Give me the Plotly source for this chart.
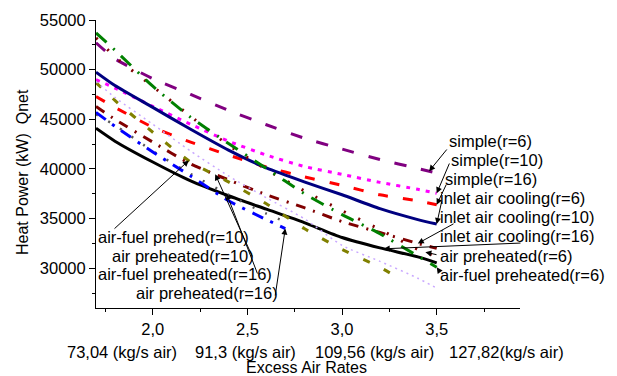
import numpy as np
import plotly.graph_objects as go

# ---------------- data ----------------
x_full = [1.7, 1.8, 2.0, 2.2, 2.4, 2.6, 2.8, 3.0, 3.2, 3.4, 3.5]
x_short = [1.7, 1.8, 2.0, 2.2, 2.4, 2.6, 2.7]
x_olive = [1.7, 1.8, 2.0, 2.2, 2.4, 2.6, 2.8, 3.0, 3.2, 3.3]

simple_r6 = [52700, 51100, 49100, 47500, 45900, 44450, 43100, 42000, 40950, 40050, 39600]
simple_r10 = [49000, 48150, 46300, 44500, 42800, 41400, 40250, 39450, 38650, 37950, 37550]
simple_r16 = [47300, 46200, 44200, 42700, 41400, 40200, 39200, 38350, 37400, 36800, 36400]
inlet_r6 = [49750, 48400, 46200, 44000, 41900, 40100, 38700, 37400, 36000, 34900, 34450]
inlet_r10 = [46300, 45000, 42700, 40500, 38900, 37400, 36100, 34700, 33600, 32500, 32000]
inlet_r16 = [44100, 42800, 40700, 38800, 37300, 35950, 34600, 33100, 32050, 31150, 30550]
air_pre_r6 = [53200, 51300, 48300, 45300, 42400, 39950, 37800, 35800, 33900, 31900, 31200]
af_pre_r6 = [53700, 51970, 48330, 45200, 42570, 40050, 37520, 35400, 33480, 31230, 30100]
af_pre_r10 = [48700, 46900, 43700, 40700, 38700, 36500, 34000, 31900, 30100, 29000]
air_pre_r10 = [48800, 47200, 44500, 41800, 39300, 37100, 35000, 32300, 30700, 29000, 28000]
af_pre_r16 = [45500, 44400, 41800, 39500, 37400, 35500, 34700]
air_pre_r16 = [45700, 44300, 41700, 39300, 36800, 34900, 34000]

x_tickvals = [2.0, 2.5, 3.0, 3.5]
x_ticktext = ["2,0", "2,5", "3,0", "3,5"]
y_tickvals = [30000, 35000, 40000, 45000, 50000, 55000]
air_labels = ["73,04 (kg/s air)", "91,3 (kg/s air)", "109,56 (kg/s air)", "127,82(kg/s air)"]

FONT = "Arial, Liberation Sans, sans-serif"

series = [
    (x_full, simple_r6, "#800080", 3, "12px,15px"),
    (x_full, simple_r10, "#FF00FF", 3, "4px,6px"),
    (x_full, simple_r16, "#FF0000", 3, "10px,15px"),
    (x_full, inlet_r6, "#000080", 3, "solid"),
    (x_full, inlet_r10, "#800000", 3, "10px,8px,2px,8px"),
    (x_full, inlet_r16, "#000000", 3, "solid"),
    (x_full, air_pre_r6, "#800000", 3, "2px,14px"),
    (x_full, af_pre_r6, "#008000", 3, "14px,9px,2px,9px"),
    (x_olive, af_pre_r10, "#808000", 3, "7px,16px"),
    (x_full, air_pre_r10, "#C9A8FF", 1.5, "2px,4px"),
    (x_short, af_pre_r16, "#555555", 2.5, "2px,12px"),
    (x_short, air_pre_r16, "#0000FF", 3, "12px,8px,3px,8px"),
]

fig = go.Figure()
for xs, ys, col, w, dash in series:
    fig.add_trace(go.Scatter(x=xs, y=ys, mode="lines",
                             line=dict(color=col, width=w, dash=dash, shape="spline", smoothing=0.6),
                             showlegend=False, hoverinfo="skip"))

# plot area in pixels
L, R, T, B = 96, 97, 20, 68
W, H = 617, 376
PW, PH = W - L - R, H - T - B
X0, X1 = 1.7, 3.94
Y0, Y1 = 26000, 55000


def px2x(px):
    return X0 + (px - L) / PW * (X1 - X0)


def py2y(py):
    return Y1 - (py - T) / PH * (Y1 - Y0)


def pxp(px):
    return (px - L) / PW


def pyp(py):
    return (T + PH - py) / PH


annotations = []

# text labels (left edge px, center y px)
labels = [
    ("simple(r=6)", 447, 141),
    ("simple(r=10)", 449, 160),
    ("simple(r=16)", 443, 179),
    ("inlet air cooling(r=6)", 438, 198),
    ("inlet air cooling(r=10)", 438, 217),
    ("inlet air cooling(r=16)", 438, 236),
    ("air preheated(r=6)", 438, 256),
    ("air-fuel preheated(r=6)", 438, 275),
    ("air-fuel prehed(r=10)", 96, 237),
    ("air preheated(r=10)", 110, 256),
    ("air-fuel preheated(r=16)", 96, 274),
    ("air preheated(r=16)", 134, 293),
]
for t, px, py in labels:
    annotations.append(dict(text=t, x=pxp(px), y=pyp(py), xref="paper", yref="paper",
                            xanchor="left", yanchor="middle", showarrow=False,
                            font=dict(family=FONT, size=16.5, color="#000")))

# arrows: (tail px, tail py, series x, series y, x at tip)
arrows = [
    (448, 148, x_full, simple_r6, 3.46),
    (450, 162, x_full, simple_r10, 3.5),
    (447, 183, x_full, simple_r16, 3.5),
    (442, 200, x_full, inlet_r6, 3.5),
    (455, 223, x_full, inlet_r10, 3.4),
    (522, 243, x_full, inlet_r16, 3.22),
    (438, 255, x_full, air_pre_r6, 3.44),
    (440, 272, x_full, af_pre_r6, 3.5),
    (113, 230, x_olive, af_pre_r10, 2.19),
    (253, 258, x_full, inlet_r10, 2.33),
    (258, 275, x_short, af_pre_r16, 2.39),
    (275, 297, x_short, air_pre_r16, 2.7),
]
for tx, ty, xs, ys, xt in arrows:
    annotations.append(dict(text="", x=xt, y=float(np.interp(xt, xs, ys)), xref="x", yref="y",
                            ax=px2x(tx), ay=py2y(ty), axref="x", ayref="y",
                            showarrow=True, arrowhead=2, arrowsize=1.2, arrowwidth=1,
                            arrowcolor="#000", standoff=0, startstandoff=0))

# secondary x labels
for t, cx in zip(air_labels, [122, 245, 374, 506]):
    annotations.append(dict(text=t, x=pxp(cx), y=pyp(352), xref="paper", yref="paper",
                            xanchor="center", yanchor="middle", showarrow=False,
                            font=dict(family=FONT, size=16.5, color="#000")))

annotations.append(dict(text="Excess Air Rates", x=pxp(306), y=pyp(367), xref="paper", yref="paper",
                        xanchor="center", yanchor="middle", showarrow=False,
                        font=dict(family=FONT, size=16, color="#000")))
annotations.append(dict(text="Heat Power (kW)\u00a0\u00a0Qnet", x=pxp(22), y=pyp(172), xref="paper", yref="paper",
                        xanchor="center", yanchor="middle", showarrow=False, textangle=-90,
                        font=dict(family=FONT, size=16, color="#000")))

fig.update_layout(
    width=W, height=H,
    margin=dict(l=L, r=R, t=T, b=B, pad=0),
    paper_bgcolor="white", plot_bgcolor="white",
    showlegend=False,
    annotations=annotations,
    xaxis=dict(range=[X0, X1], tickvals=x_tickvals, ticktext=x_ticktext,
               showgrid=False, zeroline=False, showline=True, linecolor="#000", linewidth=1,
               ticks="outside", ticklen=6, tickcolor="#000", tickwidth=1,
               minor=dict(dtick=0.25, tick0=1.75, ticks="outside", ticklen=3, tickcolor="#000", showgrid=False),
               tickfont=dict(family=FONT, size=16.5, color="#000")),
    yaxis=dict(range=[Y0, Y1], tickvals=y_tickvals, tickformat="d",
               showgrid=False, zeroline=False, showline=True, linecolor="#000", linewidth=1,
               ticks="outside", ticklen=6, tickcolor="#000", tickwidth=1,
               minor=dict(dtick=2500, tick0=27500, ticks="outside", ticklen=3, tickcolor="#000", showgrid=False),
               tickfont=dict(family=FONT, size=16.5, color="#000")),
)

fig.write_html("out.html", config={"displayModeBar": False},
               post_script="document.body.style.margin='0';document.body.style.overflow='hidden';")
